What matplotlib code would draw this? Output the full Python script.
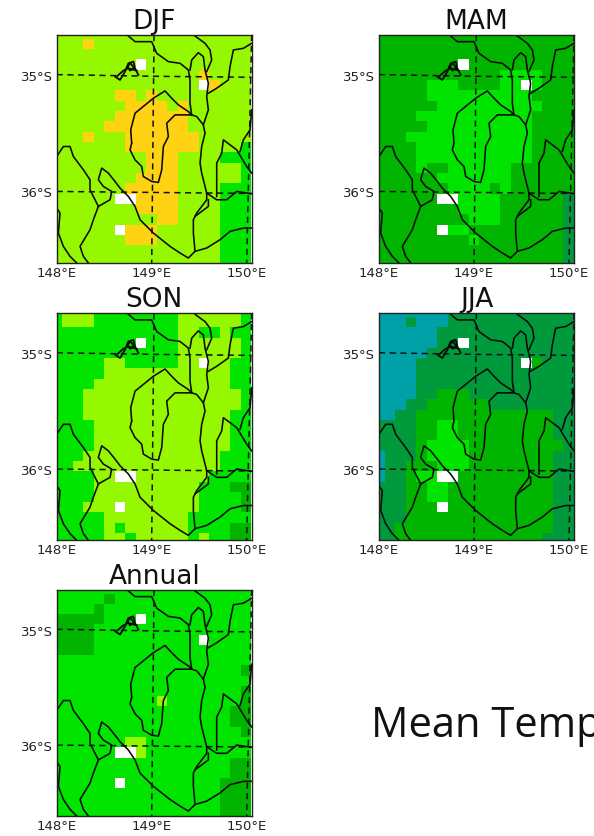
"""Five seasonal mean-temperature map panels (gridded cells with catchment outlines)."""

import matplotlib
matplotlib.use("Agg")
import matplotlib.pyplot as plt
from matplotlib.colors import ListedColormap
import numpy as np

W, H = 594, 836

# cell classes: T teal, D dark, M mid, G bright green, L yellow-green, Y yellow, W no data
CLASSES = "TDMGLYW"
CLASS_COLORS = ["#00A0A8", "#009A3C", "#00B400", "#00E400", "#96F800", "#FFD214", "#FFFFFF"]

DJF = [
    "LLLLLLLLLLLLLLLLLLL", "LLLYLLLLLLLLLLLLLLL", "LLLLLLLLLLLLLLLLLLL", "LLLLLLLLWLLLLLLLLLL",
    "LLLLLLLLLLLLLLYLLLL", "LLLLLLLLLLLLLLWYLLL", "LLLLLLYYLYLLLLLLLLL", "LLLLLLLYYYYLYLLLLLL",
    "LLLLLLYYYYYYYLLLLLL", "LLLLLYYYYYYYYLLLLLL", "LLLYLLLYYYYYYYLLLLL", "LLLLLLLYYYYYYYLLLLG",
    "LLLLLLLLLYYYLLLLGGG", "LLLLLLLLLYYYLLLLLLG", "LLLLLLLLYYYYLLLLLLG", "LLLLLLLYYYYYLLLLGGG",
    "LLLLLLWWYYYYLLLLGGG", "LLLLLLLLYYYYLLLLGGG", "LLLLLLLLLLYYLLLLGGG", "LLLLLLWYYYLLLLLLGGG",
    "LLLLLLLYYYLLLLLLGGG", "LLLLLLLLLLLLLLLLGGG", "LLLLLLLLLLLLLLLLGGG",
]
MAM = [
    "MMMMMMMMMMMMMMMMMMM", "MMMMMMMMMMMMMMMMMMM", "MMMMMMMMMMMMMMMMMMM", "MMMMMMMMWMMMMMMMMMM",
    "MMMMMMMMMMMMGGGGMMM", "MMMMMGGGMMMMGGWGMMM", "MMMMMGGGGGGGGGGMMMM", "MMMMMMGGGGGGGGGGMMM",
    "MMMMGGGGGGGGGGGMMMM", "MMMMMGGGGGGGGGGMMMM", "MMMGGGGGGGGGGGGMMMM", "MMMMGGGGGGGGGGGMMMM",
    "MMMMGGGGGGGGGGGMMMM", "MMMMGMMGGGGGGMMMMMM", "MMMMMMGGGGGGGMMMMMM", "MMMMMMMGGGGMGMMMMMM",
    "MMMMMMWWGGGGMMMMMMD", "MMMMMMMMGGGGMMMMMMD", "MMMMMMMMMGGGMMMMMMD", "MMMMMMWGGMMMMMMMMMD",
    "MMMMMMMMMGMMMMMMMMD", "MMMMMMMMMMMMMMMMMMD", "MMMMMMMMMMMMMMMMMMD",
]
SON = [
    "GLLLGGGGGGGGLLLLLLG", "GLLLGGGGGGGGLLLLLLG", "GGGGGGGGGGGGLLGGLGG", "GGGGGGGGWGGGLLLLLLG",
    "GGGGGGGGGGGGLLLLLLG", "GGGGGLLGGGGGLLWLLGG", "GGGGGLLLLLLLLLLLLGG", "GGGGLLLLLLLLLLLLLGG",
    "GGGLLLLLLLLLLLLLLLG", "GGGLLLLLLLLLLLLLLLG", "GGGLLLLLLLLLLLLLLGG", "GGGGLLLLLLLLLLLLLGG",
    "GGGGLLLLLLLLLLLLLGG", "GGGGLLLLLLLLLLLLLGG", "GGGLLLLLLLLLLLLLGGG", "GGLLLLLLLLLLLLLLGGG",
    "GGGGLLWWLLLLLLLGGGG", "GGGGLLLLLLLLLLGGGMM", "GGGGLLLLLLLLLLGGGGM", "GGGLLLWLLLLLLLGGGGM",
    "GGGGGLLLLLLLLGGGGGG", "GGGGGLGLLLLLLGGGGMM", "GGGGGLLGLLLLLGLGGMM",
]
JJA = [
    "TTTTTTTDDDDDDDDDDDD", "TTTDTTTDDDDDDDDDDDD", "TTTTTTDDDDDDDDDDDDD", "TTTTTTDDWDDDDDDDDDD",
    "TTTTTDDDDDDDDDDDDDD", "TTTTDDDDDDDDDDWMDDD", "TTTTDDDDDDDDDDDDDDD", "TTTTDDDDDDDDDDDDDDD",
    "TTTTDDMMMDDDDDDDDDD", "TTTDDMMMMMMDDDDDDDD", "TTDDMMMMMMMMMMMMMDD", "DDDDMMGGMMMMMMMMMDD",
    "DDDDMMGGMMMMMMMMMDD", "DDDDMGGGGMMMMMMMMMD", "TDDDMGGGGMMMMMMMMDD", "TDDMMMGGGMMMMMMMMDD",
    "TDDMGGWWMMMMMMMMMDD", "DDDMMGGMMMMMMMMMMDD", "DDDMMGGMMMMMMMMMMDD", "DDDMMMWMMMMMMMMMMDD",
    "DDDMMMMMMMMMMMMMMDD", "DDMMMMMMMMMMMMMMMDD", "DDMMMMMMMMMMMMMMDDD",
]
ANNUAL = [
    "GGGGGGGGGGGGGGGGGGG", "GGGGGMGGGGGGGGGGGGG", "GGGGMGGGGGGGGGGGGGG", "MMMMMGGGWGGGGGGGGGG",
    "MMMMGGGGGGGGGGGGGGG", "MMMMGGGGGGGGGGWGGGG", "MMMMGGGGGGGGGGGGGGG", "GGGGGGGGGGGGGGGGGGG",
    "GGGGGGGGGGGGGGGGGGM", "GGGGGGGGGGGGGGGGGGG", "GGGGGGGGGGGGGGGGGGM", "GGGGGGGGGGLGGGGGGGM",
    "GGGGGGGGGGGGGGGGGMM", "GGGGGGGGGGGGGGGGGMM", "GGGGGGGGGGGGGGGGGGM", "GGGGGGGLLGGGGGGGGGG",
    "GGGGGGWWLGGGGGGGGGG", "GGGGGGGGGGGGGGGGGMM", "GGGGGGGGGGGGGGGGGMM", "GGGGGGWGGGGGGGGGMMM",
    "GGGGGGGGGGGGGGGGMMM", "GGGGGGGGGGGGGGGGMMM", "GGGGGGGGGGGGGGGGMMM",
]

# catchment outlines, (x, y) in scan units
OUTLINE_OUTER = [(275, 430), (272, 390), (285, 340), (340, 295), (375, 273), (395, 295), (415, 315), (445, 335),
                 (455, 345), (470, 350), (490, 375), (495, 400), (485, 440), (480, 490), (485, 520), (495, 560),
                 (500, 580), (500, 600), (470, 640), (460, 660), (460, 700), (465, 755), (445, 775), (420, 760),
                 (390, 740), (340, 700), (300, 660), (285, 620), (265, 590), (240, 565), (225, 545), (205, 520),
                 (185, 505), (175, 540), (190, 560), (215, 575), (210, 600), (175, 620), (160, 660), (150, 690),
                 (120, 740), (130, 770), (145, 790)]
OUTLINE_INNER = [(275, 430), (270, 450), (285, 480), (305, 500), (310, 530), (335, 545), (355, 548), (365, 510),
                 (370, 440), (385, 410), (380, 370), (405, 345), (440, 345), (455, 345)]
OUTLINE_LEFT = [(50, 470), (70, 440), (90, 440), (100, 470), (130, 510), (150, 540), (150, 570), (165, 600), (175, 620)]
OUTLINE_LOWER_LEFT = [(50, 625), (60, 640), (55, 700), (70, 740), (90, 770), (110, 790)]
OUTLINE_UPPER = [(265, 108), (285, 125), (335, 125), (350, 160), (385, 185), (420, 190), (445, 210), (450, 240),
                 (450, 310), (455, 345)]
OUTLINE_NARROW = [(450, 210), (455, 180), (475, 158), (490, 170), (495, 210), (505, 250), (500, 290), (505, 330), (490, 375)]
OUTLINE_TOP_RIGHT = [(465, 108), (495, 130), (510, 150), (515, 180), (500, 215)]
OUTLINE_EAST = [(505, 280), (530, 265), (565, 240), (570, 200), (580, 150), (610, 145), (635, 130)]
OUTLINE_SOUTH_EAST = [(500, 580), (530, 600), (560, 600), (590, 575), (635, 582)]
OUTLINE_SPUR = [(530, 590), (530, 490), (545, 460), (550, 420), (590, 450), (620, 500), (635, 520)]
OUTLINE_SPUR_EAST = [(600, 455), (610, 420), (630, 390), (635, 330)]
OUTLINE_DIVIDE = [(505, 600), (505, 620), (465, 650)]
OUTLINE_BOTTOM = [(465, 755), (500, 745), (540, 720), (570, 695), (610, 685), (635, 685)]
OUTLINES = [OUTLINE_OUTER, OUTLINE_INNER, OUTLINE_LEFT, OUTLINE_LOWER_LEFT, OUTLINE_UPPER, OUTLINE_NARROW,
            OUTLINE_TOP_RIGHT, OUTLINE_EAST, OUTLINE_SOUTH_EAST, OUTLINE_SPUR, OUTLINE_SPUR_EAST, OUTLINE_DIVIDE,
            OUTLINE_BOTTOM]
# the reservoir is a dense little knot of lines
LAKE = [[(225, 230), (240, 240), (255, 215), (265, 190), (280, 185), (285, 205), (295, 225)],
        [(232, 228), (250, 212), (265, 205), (290, 212)],
        [(262, 200), (272, 190), (282, 205), (270, 212), (262, 200)]]

# dashed graticule, same scan units (slightly tilted in the projection)
GRATICULE = [[(50, 224), (340, 229), (635, 232)], [(50, 575), (340, 578), (635, 581)],
             [(342, 105), (335, 790)], [(635, 105), (620, 790)]]

LON_TICKS = [148, 149, 150]
LON_LABELS = ["148°E", "149°E", "150°E"]
LAT_TICKS = [-35, -36]
LAT_LABELS = ["35°S", "36°S"]

PANELS = [
    ("DJF", DJF, (56.7, 35, 195, 228)),
    ("MAM", MAM, (379, 35, 195, 228)),
    ("SON", SON, (56.7, 313.3, 195, 227)),
    ("JJA", JJA, (379, 313.3, 195, 227)),
    ("Annual", ANNUAL, (56.7, 590, 195, 226)),
]


def lon(x):
    return 148 + (x - 50) / 285


def lat(y):
    return -35 - (y - 228) / 350


def to_map(points):
    pts = np.array(points, dtype=float)
    return lon(pts[:, 0]), lat(pts[:, 1])


def draw_panel(fig, title, rows, box):
    x0, y0, bw, bh = box
    ax = fig.add_axes([x0 / W, 1 - (y0 + bh) / H, bw / W, bh / H])
    grid = np.array([[CLASSES.index(c) for c in row] for row in rows])
    lon_edges = lon(35 + 31.5 * np.arange(grid.shape[1] + 1))
    lat_edges = lat(84.9 + 31.06 * np.arange(grid.shape[0] + 1))
    ax.pcolormesh(lon_edges, lat_edges, grid, cmap=ListedColormap(CLASS_COLORS),
                  vmin=-0.5, vmax=len(CLASSES) - 0.5)
    for line in GRATICULE:
        xs, ys = to_map(line)
        ax.plot(xs, ys, color="#111111", lw=1.1, ls=(0, (4, 3)))
    for outline in OUTLINES:
        xs, ys = to_map(outline)
        ax.plot(xs, ys, color="#0a0a0a", lw=1.15)
    for part in LAKE:
        xs, ys = to_map(part)
        ax.plot(xs, ys, color="#0a0a0a", lw=1.3)
    ax.set_xlim(lon(50), lon(635))
    ax.set_ylim(lat(790), lat(105))
    ax.set_xticks(LON_TICKS, LON_LABELS)
    ax.set_yticks(LAT_TICKS, LAT_LABELS)
    ax.tick_params(length=0, labelsize=9.5, pad=3, labelcolor="#222222")
    for spine in ax.spines.values():
        spine.set_linewidth(1.0)
        spine.set_color("#222222")
    ax.set_title(title, fontsize=19, pad=4, color="#111111")


def main():
    fig = plt.figure(figsize=(W / 100, H / 100), dpi=100)
    for title, rows, box in PANELS:
        draw_panel(fig, title, rows, box)
    # runs off the right edge in the source slide too
    fig.text(371 / W, 1 - 737 / H, "Mean Temp", fontsize=30, family="Open Sans", color="#111111",
             ha="left", va="baseline")
    fig.savefig("out.png", dpi=100)
    plt.close(fig)


if __name__ == "__main__":
    main()
